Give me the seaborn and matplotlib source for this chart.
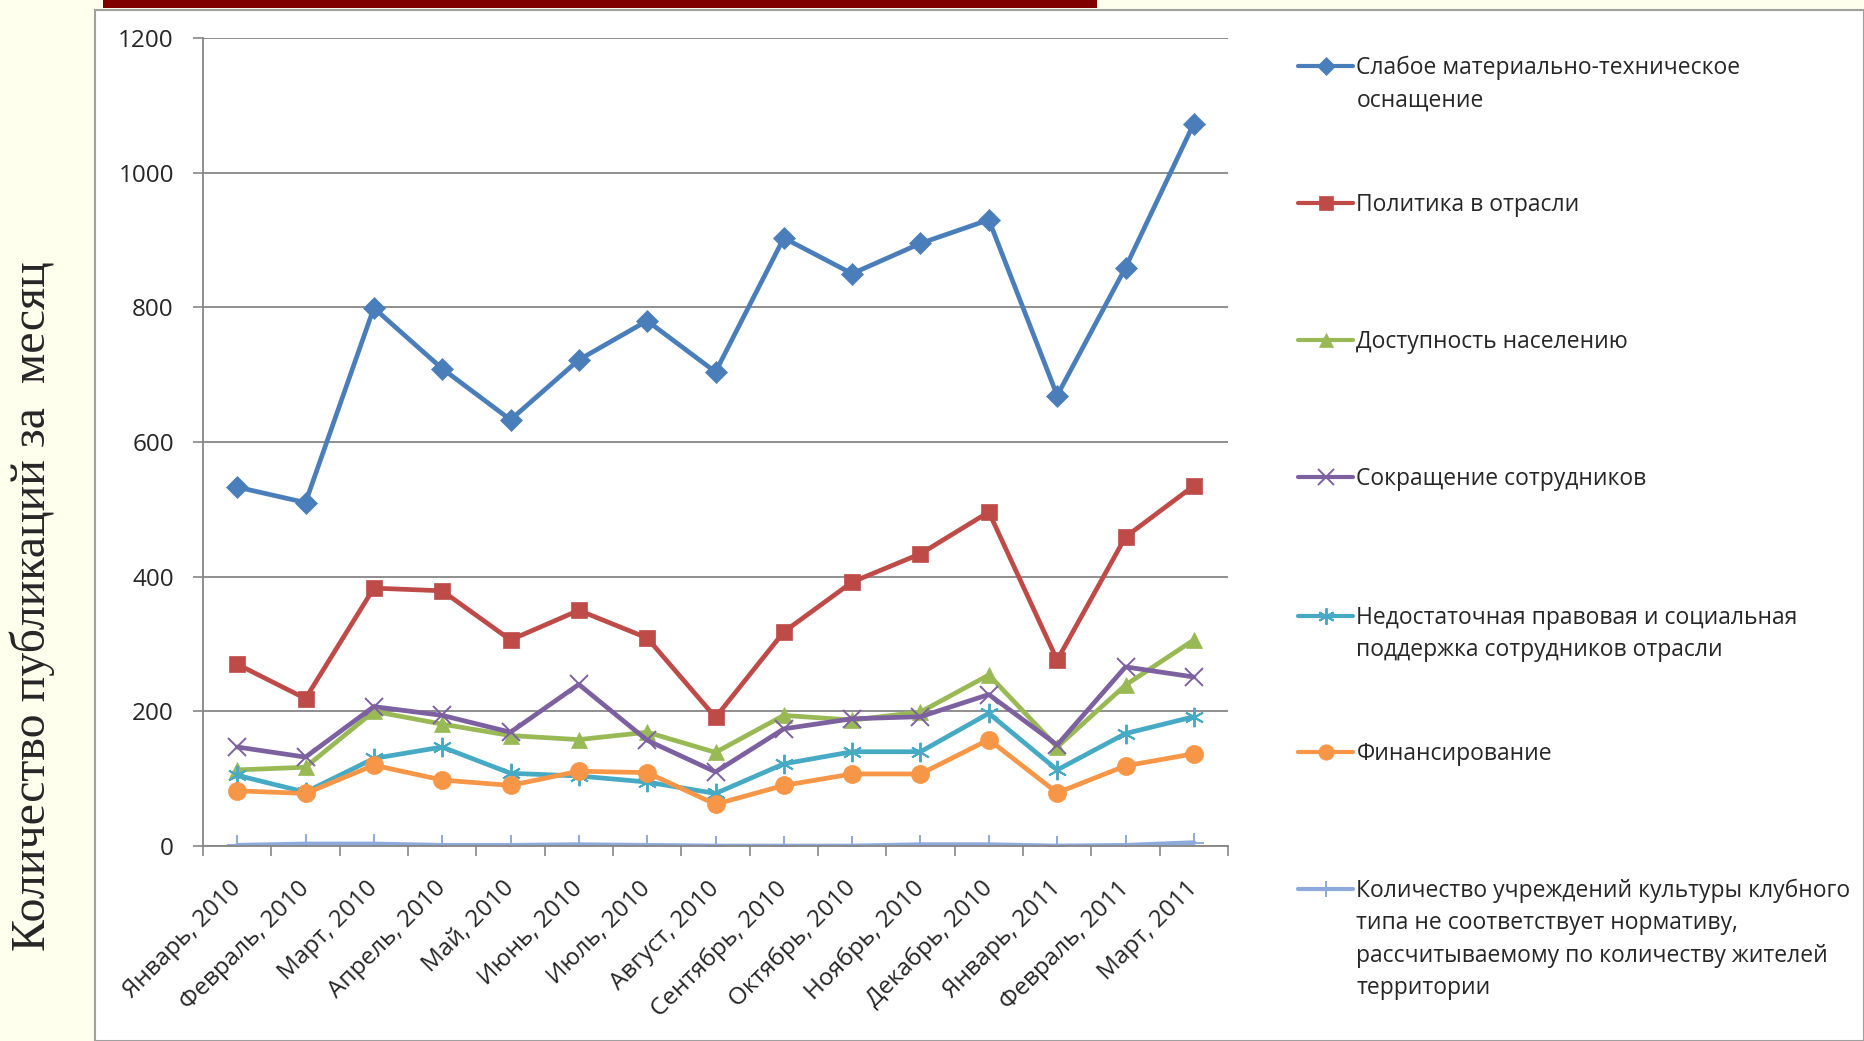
import matplotlib
matplotlib.use("Agg")
import matplotlib.pyplot as plt
from matplotlib.patches import Rectangle
from matplotlib.lines import Line2D
from matplotlib.offsetbox import HPacker
import numpy as np
import pandas as pd
import seaborn as sns

months = ['Январь, 2010', 'Февраль, 2010', 'Март, 2010', 'Апрель, 2010', 'Май, 2010',
          'Июнь, 2010', 'Июль, 2010', 'Август, 2010', 'Сентябрь, 2010', 'Октябрь, 2010',
          'Ноябрь, 2010', 'Декабрь, 2010', 'Январь, 2011', 'Февраль, 2011', 'Март, 2011']

weak_equipment = [533, 510, 799, 709, 633, 722, 780, 704, 903, 850, 895, 930, 669, 859, 1073]
industry_policy = [270, 219, 383, 379, 306, 350, 309, 191, 318, 392, 434, 496, 276, 459, 535]
accessibility = [113, 117, 200, 181, 164, 158, 169, 139, 194, 187, 199, 254, 147, 239, 306]
staff_cuts = [147, 132, 207, 194, 169, 240, 157, 110, 174, 189, 192, 225, 150, 266, 251]
legal_support = [105, 80, 130, 147, 108, 104, 95, 78, 122, 140, 140, 197, 113, 167, 192]
financing = [82, 78, 120, 98, 90, 111, 109, 62, 90, 107, 107, 158, 79, 119, 137]
club_institutions = [1, 3, 3, 1, 1, 2, 1, 0, 0, 0, 2, 2, 0, 1, 5]

series_names = [
    'Слабое материально-техническое\nоснащение',
    'Политика в отрасли',
    'Доступность населению',
    'Сокращение сотрудников',
    'Недостаточная правовая и социальная\nподдержка сотрудников отрасли',
    'Финансирование',
    'Количество учреждений культуры клубного\nтипа не соответствует нормативу,\n'
    'рассчитываемому по количеству жителей\nтерритории',
]
series_values = [weak_equipment, industry_policy, accessibility, staff_cuts,
                 legal_support, financing, club_institutions]

colors = ['#4A7EBB', '#BE4B48', '#98B954', '#7D60A0', '#46AAC5', '#F79646', '#8EA9DB']
markers = ['D', 's', '^', 'x', (6, 2, 0), 'o', '+']
msizes = [11, 12, 12, 13, 14, 13, 14]

sns.set_theme(style='white')
plt.rcParams['font.family'] = ['Open Sans', 'DejaVu Sans']

W, H = 1864, 1041
fig = plt.figure(figsize=(W / 100, H / 100), dpi=100, facecolor='#FFFFEE')

# white slide panel and red title strip
fig.add_artist(Rectangle((95 / W, 0), 1 - 95 / W, 1 - 10 / H, transform=fig.transFigure,
                         facecolor='white', edgecolor='#A0A0A0', linewidth=1.5, zorder=0))
fig.add_artist(Rectangle((103 / W, 1 - 8 / H), (1097 - 103) / W, 8 / H, transform=fig.transFigure,
                         facecolor='#800000', edgecolor='none', zorder=1))

ax = fig.add_axes([203 / W, 1 - 846 / H, (1228 - 203) / W, (846 - 38) / H])
ax.set_facecolor('none')

handles = []
for name, vals, c, m, ms in zip(series_names, series_values, colors, markers, msizes):
    df = pd.DataFrame({'month': pd.Categorical(months, categories=months, ordered=True),
                       'value': vals})
    df['pos'] = df['month'].cat.codes
    mew = 1.4 if m in ('x', '+') or isinstance(m, tuple) else 0.5
    sns.lineplot(data=df, x='pos', y='value', color=c, marker=m, markersize=ms,
                 markeredgecolor=c, markeredgewidth=mew,
                 linewidth=3.4, ax=ax, legend=False)
    handles.append(Line2D([], [], color=c, marker=m, markersize=ms * 0.85, linewidth=3,
                          markeredgecolor=c, markeredgewidth=mew))

ax.set_xlim(-0.5, len(months) - 0.5)
ax.set_ylim(0, 1200)
ax.set_yticks(np.arange(0, 1201, 200))
ax.set_xticks(range(len(months)))
ax.set_xticklabels(months, rotation=45, ha='right', va='center', rotation_mode='anchor',
                   fontsize=17.5)
ax.set_xticks(np.arange(-0.5, len(months), 1), minor=True)
ax.tick_params(axis='x', which='major', length=0, pad=28)
ax.tick_params(axis='x', which='minor', length=7, width=1.2, color='#868686', direction='out',
               bottom=True)
ax.tick_params(axis='y', which='major', length=7, width=1.2, color='#868686', direction='out',
               left=True, labelsize=17.5, pad=14)
ax.set_xlabel('')
ax.set_ylabel('')
ax.grid(axis='y', color='#868686', linewidth=1.3)
ax.grid(axis='x', visible=False)
for s in ['top', 'right']:
    ax.spines[s].set_visible(False)
for s in ['left', 'bottom']:
    ax.spines[s].set_color('#868686')
    ax.spines[s].set_linewidth(1.3)

fig.text(32 / W, 1 - 606 / H, 'Количество публикаций за  месяц', rotation=90,
         ha='center', va='center', fontsize=34.5, family=['Liberation Serif', 'DejaVu Serif'])

# legend, one slot per series as in the original layout
first_line_y = [65, 202, 339, 476, 615, 751, 888]
for h, name, yy in zip(handles, series_names, first_line_y):
    leg = fig.legend(handles=[h], labels=[name], loc='upper left',
                     bbox_to_anchor=(1298 / W, 1 - (yy - 9) / H), frameon=False,
                     fontsize=16.5, handlelength=2.4, handleheight=1.3, handletextpad=0.15,
                     borderpad=0, borderaxespad=0)
    for t in leg.get_texts():
        t.set_linespacing(1.45)
    for hp in leg.findobj(HPacker):
        hp.align = 'top'

fig.savefig('out.png', dpi=100, facecolor=fig.get_facecolor())
